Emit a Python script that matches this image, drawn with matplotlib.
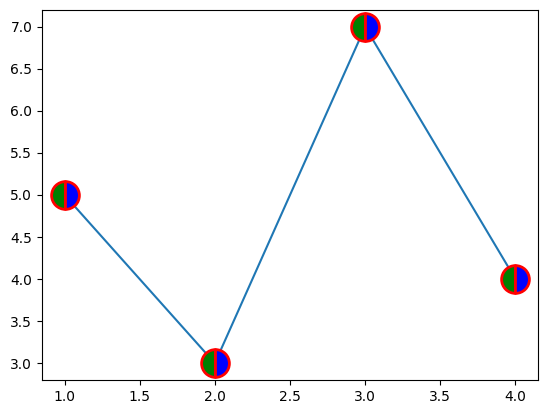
import matplotlib
matplotlib.use("Agg")
import matplotlib.pyplot as plt

x = [1, 2, 3, 4]
y = [5, 3, 7, 4]

fig = plt.figure(figsize=(5.47, 4.13), dpi=100)
ax = fig.add_axes([42 / 547, 33 / 413, 496 / 547, 370 / 413])
ax.plot(x, y, color="C0", marker="o", markersize=20, markeredgewidth=2,
        fillstyle="left", markerfacecolor="green", markerfacecoloralt="blue",
        markeredgecolor="red")
fig.savefig("out.png", dpi=100)
